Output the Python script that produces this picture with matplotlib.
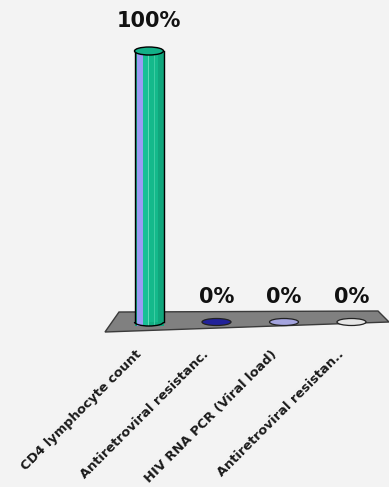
import matplotlib
matplotlib.use("Agg")
import matplotlib.pyplot as plt
from matplotlib.patches import Rectangle, Ellipse, Polygon, Arc

categories = ["CD4 lymphocyte count", "Antiretroviral resistanc.",
              "HIV RNA PCR (Viral load)", "Antiretroviral resistan.."]
values = [100, 0, 0, 0]
value_labels = ["100%", "0%", "0%", "0%"]
colors = ["#14b98b", "#22229a", "#a4a4de", "#e6e6e6"]

W, H = 389, 487
fig = plt.figure(figsize=(W / 100, H / 100), dpi=100)
fig.patch.set_facecolor("#f3f3f3")
ax = fig.add_axes([0, 0, 1, 1])
ax.set_facecolor("#f3f3f3")

X0, DX = 149.0, 67.5
Y0, DY = 322.0, 2.71
ax.set_xlim(-X0 / DX, (W - X0) / DX)
ax.set_ylim((Y0 - H) / DY, Y0 / DY)
ax.axis("off")

def px(xp, yp):
    return ((xp - X0) / DX, (Y0 - yp) / DY)

floor = [px(105, 332), px(119, 312), px(378, 311), px(389, 322)]
ax.add_patch(Polygon(floor, closed=True, facecolor="#808080",
                     edgecolor="#3a3a3a", lw=1.0, zorder=1))

bw = 29 / DX
eh = 8 / DY

for i, (v, c, lab) in enumerate(zip(values, colors, value_labels)):
    x = i
    if v > 0:
        ax.add_patch(Ellipse((x, 0), bw, eh, facecolor="#12ad82", edgecolor="none",
                             zorder=2))
        ax.add_patch(Rectangle((x - bw / 2, 0), bw, v, facecolor=c,
                               edgecolor="none", zorder=3))
        stripes = [(-0.50, -0.40, "#0f9e76"), (-0.40, -0.22, "#9b9bf5"),
                   (-0.22, -0.05, "#17c096"), (-0.05, -0.01, "#5fd9b5"),
                   (0.18, 0.22, "#3ecca3"), (0.30, 0.50, "#10a67c")]
        for a, b, sc in stripes:
            ax.add_patch(Rectangle((x + a * bw, 0), (b - a) * bw, v,
                                   facecolor=sc, edgecolor="none", zorder=3))
            ax.add_patch(Rectangle((x + a * bw, -eh / 2), (b - a) * bw, eh / 2,
                                   facecolor=sc, edgecolor="none", zorder=2.5))
        ax.plot([x - bw / 2, x - bw / 2], [0, v], color="black", lw=1.0, zorder=4)
        ax.plot([x + bw / 2, x + bw / 2], [0, v], color="black", lw=1.0, zorder=4)
        ax.add_patch(Arc((x, 0), bw, eh, theta1=180, theta2=360,
                         edgecolor="black", lw=1.0, zorder=4))
        ax.add_patch(Ellipse((x, v), bw, eh, facecolor="#13b088", edgecolor="black",
                             lw=1.0, zorder=5))
        ax.text(x, v + 11, lab, ha="center", va="center", fontsize=15,
                fontweight="bold", color="#111111", family="DejaVu Sans")
    else:
        ax.add_patch(Ellipse((x, 0), bw, 7 / DY, facecolor=c, edgecolor="#222222",
                             lw=0.9, zorder=2))
        ax.text(x, 9.3, lab, ha="center", va="center", fontsize=15,
                fontweight="bold", color="#111111", family="DejaVu Sans")

for i, cat in enumerate(categories):
    xa, ya = px(X0 + DX * i - 14, 348)
    ax.text(xa, ya, cat, rotation=45, rotation_mode="anchor", ha="right",
            va="top", fontsize=9.4, fontweight="bold", color="#1a1a1a",
            family="DejaVu Sans")

fig.savefig("out.png", dpi=100, facecolor=fig.get_facecolor())
